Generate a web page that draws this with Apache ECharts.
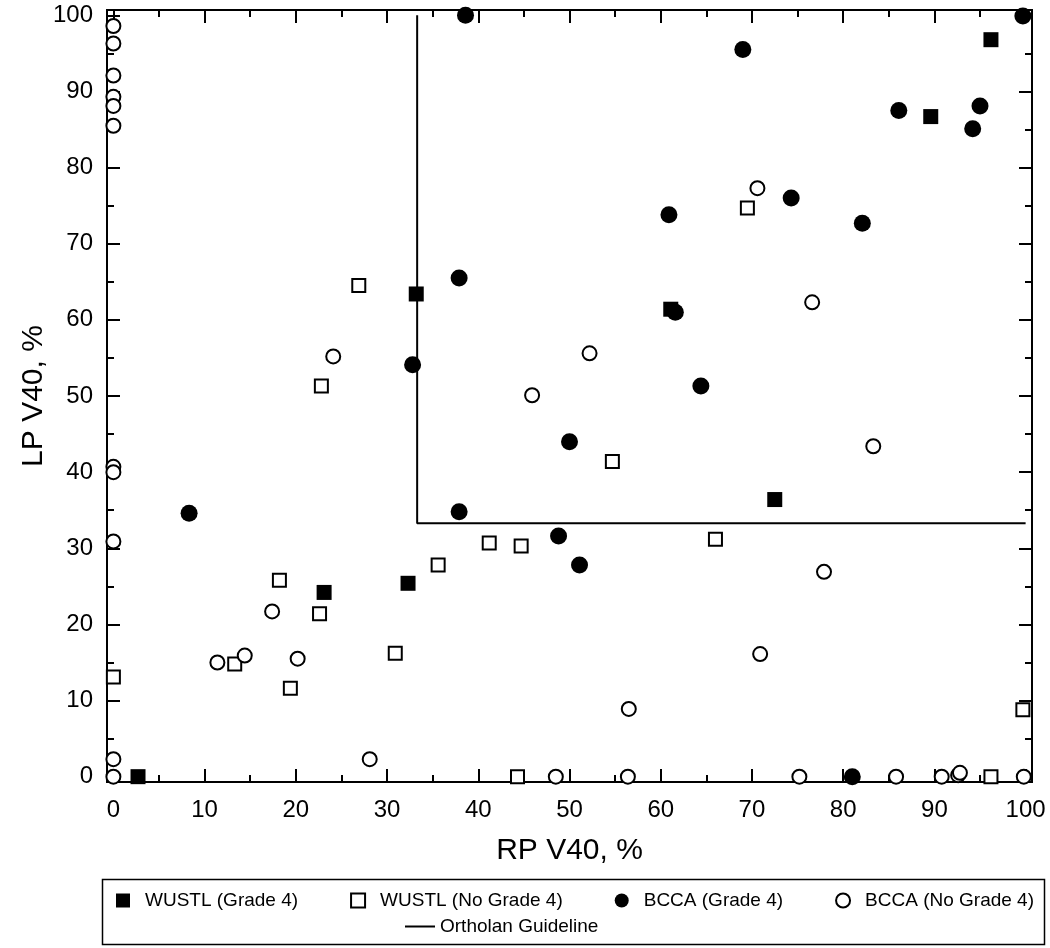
<!DOCTYPE html>
<html><head><meta charset="utf-8">
<script src="https://cdn.jsdelivr.net/npm/echarts@6/dist/echarts.min.js"></script>
<style>html,body{margin:0;padding:0;background:#fff}#c{width:1050px;height:948px}</style>
</head><body><div id="c"></div>
<script>
const xMajor = [0,10,20,30,40,50,60,70,80,90,100];
const xMinor = [5,15,25,35,45,55,65,75,85,95];
const yMajor = [0,10,20,30,40,50,60,70,80,90,100];
const yMinor = [5,15,25,35,45,55,65,75,85,95];

const legendNames = ['WUSTL (Grade 4)', 'WUSTL (No Grade 4)', 'BCCA (Grade 4)', 'BCCA (No Grade 4)'];
const guideName = 'Ortholan Guideline';

const wustlG4 = [[2.7,0],[23.1,24.2],[32.3,25.4],[33.2,63.4],[61.1,61.4],[72.5,36.4],[89.6,86.7],[96.2,96.8]];
const wustlNoG4 = [[0,13.1],[13.3,14.8],[18.2,25.8],[19.4,11.6],[22.6,21.4],[22.8,51.3],[26.9,64.5],[30.9,16.2],[35.6,27.8],[41.2,30.7],[44.3,0],[44.7,30.3],[54.7,41.4],[66.0,31.2],[69.5,74.7],[96.2,0],[99.7,8.8]];
const bccaG4 = [[8.3,34.6],[32.8,54.1],[37.9,65.5],[37.9,34.8],[38.6,100],[48.8,31.6],[50.0,44.0],[51.1,27.8],[60.9,73.8],[61.6,61.0],[64.4,51.3],[69.0,95.5],[74.3,76.0],[81.0,0],[82.1,72.7],[86.1,87.5],[94.2,85.1],[95.0,88.1],[99.7,99.9]];
const bccaNoG4 = [[0,98.6],[0,96.3],[0,92.1],[0,89.3],[0,88.1],[0,85.5],[0,40.7],[0,40.0],[0,30.9],[0,2.3],[0,0],[11.4,15.0],[14.4,15.9],[17.4,21.7],[20.2,15.5],[24.1,55.2],[28.1,2.3],[45.9,50.1],[48.5,0],[52.2,55.6],[56.4,0],[56.5,8.9],[70.6,77.3],[70.9,16.1],[75.2,0],[76.6,62.3],[77.9,26.9],[83.3,43.4],[85.8,0],[90.8,0],[92.6,0.2],[92.8,0.5],[99.8,0]];
const guideline = [[33.3,100],[33.3,33.3],[100,33.3]];

const FONT = 'Liberation Sans, Arial, sans-serif';
const AX_MIN = -0.7, AX_MAX = 100.7;

const LSIZE = 19;
const cv = document.createElement('canvas').getContext('2d');
cv.font = LSIZE + 'px ' + FONT;
const ICON = 14, TXTPAD = 10, LEFT0 = 111, RIGHT_END = 1027;
let textSum = 0;
legendNames.forEach(n => { textSum += cv.measureText(n).width; });
const gap = Math.max(20, (RIGHT_END - LEFT0 - legendNames.length * (ICON + 5 + TXTPAD) - textSum) / (legendNames.length - 1));

function axis(pos, values, len, extra) {
  return Object.assign({
    type: 'value', position: pos, min: AX_MIN, max: AX_MAX, gridIndex: 0,
    axisLine: {show: true, onZero: false, lineStyle: {color: '#000', width: 2}},
    axisTick: {show: true, inside: true, length: len, customValues: values, lineStyle: {color: '#000', width: 2}},
    axisLabel: {show: false},
    splitLine: {show: false}
  }, extra || {});
}

const chart = echarts.init(document.getElementById('c'), null, {renderer: 'canvas'});
chart.setOption({
  animation: false,
  backgroundColor: '#fff',
  textStyle: {fontFamily: FONT},
  grid: {left: 107, right: 18, top: 10, bottom: 166, containLabel: false},
  xAxis: [
    axis('bottom', xMajor, 13, {
      axisLabel: {show: true, customValues: xMajor, fontSize: 24, color: '#000', margin: 16, fontFamily: FONT},
      name: 'RP V40, %', nameLocation: 'middle', nameGap: 54, nameMoveOverlap: false,
      nameTextStyle: {fontSize: 30, color: '#000', fontFamily: FONT}
    }),
    axis('bottom', xMinor, 7),
    axis('top', xMajor, 13),
    axis('top', xMinor, 7)
  ],
  yAxis: [
    axis('left', yMajor, 13, {
      axisLabel: {show: true, customValues: yMajor, fontSize: 24, color: '#000', margin: 14, fontFamily: FONT},
      name: 'LP V40, %', nameLocation: 'middle', nameGap: 58, nameRotate: 90, nameMoveOverlap: false,
      nameTextStyle: {fontSize: 30, color: '#000', fontFamily: FONT}
    }),
    axis('left', yMinor, 7),
    axis('right', yMajor, 13),
    axis('right', yMinor, 7)
  ],
  legend: [
    {
      data: legendNames,
      left: LEFT0, top: 886, orient: 'horizontal', itemGap: gap, itemWidth: ICON, itemHeight: ICON,
      textStyle: {fontSize: LSIZE, color: '#000', fontFamily: FONT, padding: [0, 0, 0, TXTPAD]}
    },
    {
      data: [{name: guideName, icon: 'rect'}],
      left: 400, top: 912, itemWidth: 30, itemHeight: 2,
      textStyle: {fontSize: LSIZE, color: '#000', fontFamily: FONT}
    }
  ],
  graphic: [{
    type: 'rect', left: 100, top: 877, z: 0,
    shape: {width: 942, height: 65},
    style: {fill: 'none', stroke: '#000', lineWidth: 1.5}
  }],
  series: [
    {name: guideName, type: 'line', data: guideline, symbol: 'none', showSymbol: false,
     lineStyle: {color: '#000', width: 2}, itemStyle: {color: '#000'}, z: 1},
    {name: legendNames[0], type: 'scatter', data: wustlG4, symbol: 'rect', symbolSize: 15,
     itemStyle: {color: '#000', opacity: 1}, z: 2},
    {name: legendNames[1], type: 'scatter', data: wustlNoG4, symbol: 'rect', symbolSize: 13,
     itemStyle: {color: '#fff', borderColor: '#000', borderWidth: 2, opacity: 1}, z: 3},
    {name: legendNames[2], type: 'scatter', data: bccaG4, symbol: 'circle', symbolSize: 17,
     itemStyle: {color: '#000', opacity: 1}, z: 4},
    {name: legendNames[3], type: 'scatter', data: bccaNoG4, symbol: 'circle', symbolSize: 14,
     itemStyle: {color: '#fff', borderColor: '#000', borderWidth: 2, opacity: 1}, z: 5}
  ]
});
</script></body></html>
